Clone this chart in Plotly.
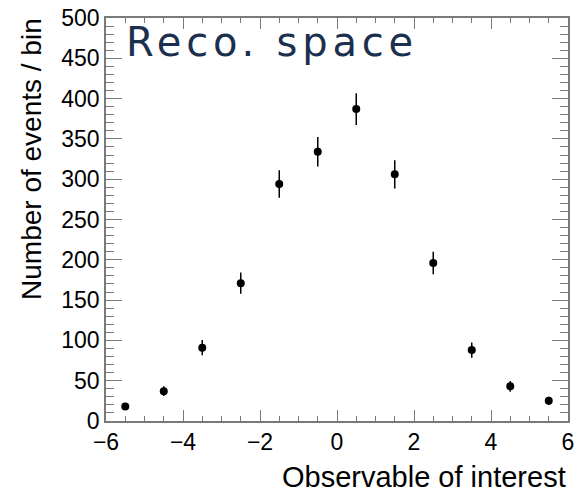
import plotly.graph_objects as go

# Data
bin_centers = [-5.5, -4.5, -3.5, -2.5, -1.5, -0.5, 0.5, 1.5, 2.5, 3.5, 4.5, 5.5]
counts = [18, 37, 91, 171, 294, 334, 387, 306, 196, 88, 43, 25]
errors = [4.2, 6.1, 9.5, 13.1, 17.1, 18.3, 19.7, 17.5, 14.0, 9.4, 6.6, 5.0]

x_title = "Observable of interest"
y_title = "Number of events / bin"
label = "Reco. space"

W, H = 579, 492
L, R, T, B = 106, 5, 16, 71
pw = W - L - R
ph = H - T - B

axis_col = "#7a7a7a"
font_main = "Liberation Sans, Arial, sans-serif"

fig = go.Figure()
fig.add_trace(go.Scatter(
    x=bin_centers, y=counts, mode="markers",
    marker=dict(color="black", size=8),
    error_y=dict(type="data", array=errors, visible=True, color="black", thickness=1.5, width=0),
    showlegend=False,
))

common = dict(
    showline=True, linecolor=axis_col, linewidth=1.5, mirror="allticks",
    ticks="inside", tickcolor=axis_col, tickwidth=1.2,
    showgrid=False, zeroline=False,
    tickfont=dict(family=font_main, size=23, color="black"),
)

fig.update_xaxes(range=[-6, 6], dtick=2, tick0=-6, ticklen=11,
                 minor=dict(dtick=0.5, ticks="inside", ticklen=5, tickcolor=axis_col, tickwidth=1.2),
                 **common)
fig.update_yaxes(range=[0, 500], dtick=50, tick0=0, ticklen=16,
                 minor=dict(dtick=10, ticks="inside", ticklen=8, tickcolor=axis_col, tickwidth=1.2),
                 **common)

fig.add_annotation(text=x_title, xref="paper", yref="paper", x=1.0, y=(421 - 477) / ph,
                   xanchor="right", yanchor="middle", showarrow=False,
                   font=dict(family=font_main, size=29, color="black"))
fig.add_annotation(text=y_title, xref="paper", yref="paper", x=(30 - L) / pw, y=1.0 + 2 / ph,
                   xanchor="center", yanchor="top", textangle=-90, showarrow=False,
                   font=dict(family=font_main, size=28, color="black"))
fig.add_annotation(text=label, xref="paper", yref="paper", x=(124 - L) / pw, y=1.0 + 1 / ph,
                   xanchor="left", yanchor="top", align="left", showarrow=False,
                   font=dict(family="DejaVu Sans", size=40, color="#1b2f4e"))

fig.update_layout(
    width=W, height=H, margin=dict(l=L, r=R, t=T, b=B),
    paper_bgcolor="white", plot_bgcolor="white",
)

post = """
document.body.style.margin = '0';
document.body.style.overflow = 'hidden';
document.querySelectorAll('.annotation-text').forEach(function(t){
  if (t.textContent.indexOf('Reco.') === 0) { t.style.letterSpacing = '4.8px'; }
});
"""

fig.write_html("out.html", post_script=post, config={"displayModeBar": False})
